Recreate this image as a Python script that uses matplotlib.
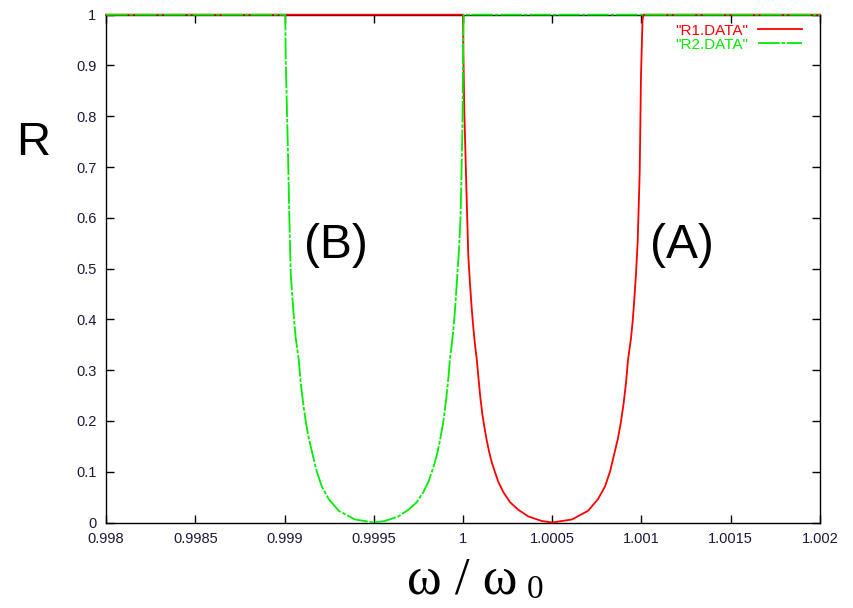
import matplotlib.pyplot as plt

# reflectance curves (omega/omega0, R)
r1_w = [0.998, 1.0, 1.0000028, 1.0000073, 1.0000207, 1.0000297, 1.0000392, 1.0000487,
        1.0000577, 1.0000672, 1.0000767, 1.0000857, 1.0000969, 1.0001081, 1.0001193,
        1.0001328, 1.0001473, 1.0001608, 1.0001793, 1.0001978, 1.0002258, 1.0002633,
        1.0003098, 1.0003658, 1.0004409, 1.0005,
        1.0006106, 1.0007003, 1.0007563, 1.0007955, 1.0008235, 1.0008459, 1.0008683,
        1.0008852, 1.0009003, 1.0009132, 1.0009244, 1.0009412, 1.0009507, 1.0009597,
        1.0009692, 1.0009787, 1.0009899, 1.0009972, 1.0010056, 1.0010112, 1.002]
r1_R = [1.0, 1.0, 0.91, 0.81, 0.635, 0.525, 0.47, 0.422,
        0.384, 0.35, 0.323, 0.288, 0.247, 0.214, 0.189,
        0.162, 0.138, 0.119, 0.099, 0.080, 0.060, 0.040,
        0.025, 0.012, 0.003, 0.0,
        0.006, 0.023, 0.046, 0.071, 0.100, 0.133, 0.166,
        0.199, 0.236, 0.275, 0.320, 0.363, 0.397, 0.439,
        0.490, 0.555, 0.69, 0.88, 0.99, 1.0, 1.0]

r2_w = [0.998, 0.9990042, 0.999007, 0.999020, 0.999029, 0.999035, 0.999045, 0.999054,
        0.999063, 0.999080, 0.999091, 0.999104, 0.999119, 0.999136, 0.999158,
        0.999181, 0.999209, 0.999248, 0.999304, 0.999394, 0.9995,
        0.999563, 0.999638, 0.999694, 0.999741, 0.999778, 0.999806, 0.999825,
        0.999843, 0.999857, 0.999871, 0.999885, 0.999896, 0.999907, 0.999919,
        0.999927, 0.999937, 0.999947, 0.999956, 0.999965, 0.999978, 0.999987,
        0.999997, 1.000001, 1.000004, 1.002]
r2_R = [1.0, 1.0, 0.91, 0.72, 0.57, 0.490, 0.439, 0.397,
        0.363, 0.320, 0.275, 0.236, 0.199, 0.166, 0.133,
        0.100, 0.071, 0.046, 0.023, 0.006, 0.0,
        0.003, 0.012, 0.025, 0.040, 0.060, 0.080, 0.099,
        0.119, 0.138, 0.162, 0.189, 0.214, 0.247, 0.288,
        0.323, 0.35, 0.384, 0.422, 0.47, 0.54, 0.61,
        0.78, 0.94, 1.0, 1.0]

xticks = [0.998, 0.9985, 0.999, 0.9995, 1.0, 1.0005, 1.001, 1.0015, 1.002]
xticklabels = ['0.998', '0.9985', '0.999', '0.9995', '1', '1.0005', '1.001', '1.0015', '1.002']
yticks = [0, 0.1, 0.2, 0.3, 0.4, 0.5, 0.6, 0.7, 0.8, 0.9, 1.0]
yticklabels = ['0', '0.1', '0.2', '0.3', '0.4', '0.5', '0.6', '0.7', '0.8', '0.9', '1']

plt.rcParams['font.family'] = ['Liberation Sans', 'DejaVu Sans']

fig = plt.figure(figsize=(8.54, 6.08), dpi=100)
ax = fig.add_axes([106/854, 1 - 522.5/608, 714/854, 507.8/608])

ax.plot(r1_w, r1_R, color='#ff0000', lw=1.3, label='"R1.DATA"',
        zorder=3, clip_on=False)
ax.plot(r2_w, r2_R, color='#00ee00', lw=1.3, dashes=[12, 1, 2, 1],
        label='"R2.DATA"', zorder=4, clip_on=False)

ax.set_xlim(0.998, 1.002)
ax.set_ylim(0, 1)
ax.set_xticks(xticks)
ax.set_xticklabels(xticklabels)
ax.set_yticks(yticks)
ax.set_yticklabels(yticklabels)
ax.tick_params(direction='in', length=6, width=1, top=True, right=True,
               labelsize=10.5, labelcolor='#1a1a3a', pad=7)
for s in ax.spines.values():
    s.set_linewidth(1)

leg = ax.legend(loc='upper right', bbox_to_anchor=(1 - 12/714, 1 - 3/507.8),
                fontsize=11, markerfirst=False, frameon=False,
                labelcolor='linecolor', handlelength=2.9, handletextpad=0.6,
                labelspacing=0.0, borderaxespad=0, borderpad=0.4)

ax.text(0.9995 - 0.000213, 0.546, '(B)', fontsize=34.5, ha='center', va='center')
ax.text(1.0005 + 0.000728, 0.546, '(A)', fontsize=34.5, ha='center', va='center')

fig.text(33/854, 1 - 143/608, 'R', fontsize=34, ha='center', va='center')
fig.text(407/854, 1 - 593/608, 'ω / ω', fontsize=38, family='Liberation Serif',
         ha='left', va='baseline')
fig.text(527/854, 1 - 598/608, '0', fontsize=24, family='Liberation Serif',
         ha='left', va='baseline')

fig.savefig('out.png', dpi=100)
